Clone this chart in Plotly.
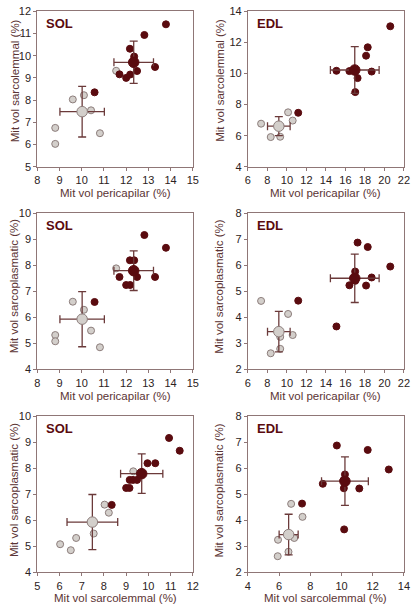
import plotly.graph_objects as go

# ---------------- data ----------------
# SOL muscle: light and dark groups
sol_light_pericap = [11.55, 9.60, 10.10, 10.42, 8.81, 8.81, 10.82]
sol_light_sarcolem = [9.32, 8.03, 8.22, 7.54, 6.75, 6.03, 6.51]
sol_light_sarcopl = [7.88, 6.60, 6.29, 5.49, 5.32, 5.08, 4.85]

sol_dark_pericap = [13.79, 12.82, 12.17, 12.36, 11.70, 12.49, 13.30, 12.00, 12.18, 10.58]
sol_dark_sarcolem = [11.41, 10.93, 10.31, 9.96, 9.16, 9.31, 9.49, 9.00, 9.15, 8.35]
sol_dark_sarcopl = [8.67, 9.16, 8.19, 8.19, 7.55, 7.55, 7.55, 7.24, 7.24, 6.59]

# EDL muscle
edl_light_pericap = [7.35, 10.12, 10.59, 9.31, 9.31, 8.34]
edl_light_sarcolem = [6.77, 7.50, 6.97, 5.93, 6.60, 5.91]
edl_light_sarcopl = [4.63, 4.13, 3.32, 3.25, 2.79, 2.62]

edl_dark_pericap = [20.60, 18.29, 18.12, 15.08, 16.41, 18.69, 17.25, 17.01, 11.16, 17.00]
edl_dark_sarcolem = [13.03, 11.68, 11.14, 10.17, 10.15, 10.12, 9.70, 8.80, 7.47, 10.22]
edl_dark_sarcopl = [5.95, 6.70, 5.22, 3.65, 5.23, 5.53, 6.87, 5.40, 4.64, 5.76]

# group means and SDs (pericapilar, sarcolemmal, sarcoplasmatic)
sol_light_mean = [10.02, 7.48, 5.93]
sol_light_sd = [1.00, 1.14, 1.06]
sol_dark_mean = [12.34, 9.70, 7.79]
sol_dark_sd = [0.89, 0.95, 0.76]
edl_light_mean = [9.17, 6.61, 3.45]
edl_light_sd = [1.16, 0.61, 0.78]
edl_dark_mean = [16.96, 10.22, 5.50]
edl_dark_sd = [2.50, 1.50, 0.93]

x_titles = ["Mit vol pericapilar (%)", "Mit vol pericapilar (%)", "Mit vol sarcolemmal (%)"]
y_titles = ["Mit vol sarcolemmal (%)", "Mit vol sarcoplasmatic (%)", "Mit vol sarcoplasmatic (%)"]
panel_labels = ["SOL", "EDL"]

# ---------------- styling ----------------
W, H = 419, 611
DARK = "#5a0b0f"
LIGHT = "#d3cfcb"
LIGHT_LINE = "#8c7d7b"
ERR = "#6b3a3a"
AXIS = "#8f7676"
TITLE_COL = "#5b3434"
TICK_COL = "#2b2222"
FONT = "Arial, Liberation Sans, sans-serif"


def px_x(p):
    return p / W


def px_y(p):
    return 1 - p / H


col_px = [(35.0, 194.0), (250.3, 409.7)]
row_px = [(5.3, 164.0), (211.3, 370.7), (418.3, 577.7)]
xtitle_off = [27, 27, 26]
ytitle_x = [12.0, 221.0]
ytitle_y = [76.0, 286.0, 494.0]

xranges = {
    (0, 0): [8, 15], (0, 1): [6, 22],
    (1, 0): [8, 15], (1, 1): [6, 22],
    (2, 0): [5, 12], (2, 1): [4, 14],
}
yranges = {
    (0, 0): [5, 12], (0, 1): [4, 14],
    (1, 0): [4, 10], (1, 1): [2, 8],
    (2, 0): [4, 10], (2, 1): [2, 8],
}
dticks = {
    (0, 0): (1, 1), (0, 1): (2, 2),
    (1, 0): (1, 1), (1, 1): (2, 1),
    (2, 0): (1, 1), (2, 1): (2, 1),
}

fig = go.Figure()
layout = {}

groups = {
    0: dict(light=(sol_light_pericap, sol_light_sarcolem, sol_light_sarcopl),
            dark=(sol_dark_pericap, sol_dark_sarcolem, sol_dark_sarcopl),
            lm=sol_light_mean, ls=sol_light_sd, dm=sol_dark_mean, ds=sol_dark_sd),
    1: dict(light=(edl_light_pericap, edl_light_sarcolem, edl_light_sarcopl),
            dark=(edl_dark_pericap, edl_dark_sarcolem, edl_dark_sarcopl),
            lm=edl_light_mean, ls=edl_light_sd, dm=edl_dark_mean, ds=edl_dark_sd),
}
pairs = [(0, 1), (0, 2), (1, 2)]

annotations = []
idx = 0
for r in range(3):
    for c in range(2):
        idx += 1
        xa = "x" if idx == 1 else f"x{idx}"
        ya = "y" if idx == 1 else f"y{idx}"
        xkey = "xaxis" if idx == 1 else f"xaxis{idx}"
        ykey = "yaxis" if idx == 1 else f"yaxis{idx}"
        g = groups[c]
        xi, yi = pairs[r]

        fig.add_trace(go.Scatter(
            x=g["light"][xi], y=g["light"][yi], mode="markers", xaxis=xa, yaxis=ya,
            marker=dict(size=7, color=LIGHT, line=dict(color=LIGHT_LINE, width=1)),
            showlegend=False, hoverinfo="x+y"))
        fig.add_trace(go.Scatter(
            x=g["dark"][xi], y=g["dark"][yi], mode="markers", xaxis=xa, yaxis=ya,
            marker=dict(size=7, color=DARK, line=dict(color=DARK, width=1)),
            showlegend=False, hoverinfo="x+y"))
        fig.add_trace(go.Scatter(
            x=[g["lm"][xi]], y=[g["lm"][yi]], mode="markers", xaxis=xa, yaxis=ya,
            error_x=dict(type="data", array=[g["ls"][xi]], color=ERR, thickness=1.3, width=4),
            error_y=dict(type="data", array=[g["ls"][yi]], color=ERR, thickness=1.3, width=4),
            marker=dict(size=10.5, color=LIGHT, line=dict(color=LIGHT_LINE, width=1)),
            showlegend=False, hoverinfo="x+y"))
        fig.add_trace(go.Scatter(
            x=[g["dm"][xi]], y=[g["dm"][yi]], mode="markers", xaxis=xa, yaxis=ya,
            error_x=dict(type="data", array=[g["ds"][xi]], color=ERR, thickness=1.3, width=4),
            error_y=dict(type="data", array=[g["ds"][yi]], color=ERR, thickness=1.3, width=4),
            marker=dict(size=10.5, color=DARK, line=dict(color=DARK, width=1)),
            showlegend=False, hoverinfo="x+y"))

        x0, x1 = col_px[c]
        yt, yb = row_px[r]
        dx, dy = dticks[(r, c)]
        common = dict(showgrid=False, zeroline=False, showline=True, linecolor=AXIS,
                      linewidth=1, mirror=True, ticks="outside", ticklen=3,
                      tickcolor=AXIS, tickwidth=1,
                      tickfont=dict(family=FONT, size=11, color=TICK_COL))
        layout[xkey] = dict(common, domain=[px_x(x0), px_x(x1)], range=xranges[(r, c)],
                            dtick=dx, tick0=0, anchor=ya)
        layout[ykey] = dict(common, domain=[px_y(yb), px_y(yt)], range=yranges[(r, c)],
                            dtick=dy, tick0=0, anchor=xa)
        # axis titles
        annotations.append(dict(
            text=x_titles[r], xref="paper", yref="paper",
            x=px_x((x0 + x1) / 2), y=px_y(yb + xtitle_off[r]), xanchor="center",
            yanchor="middle", showarrow=False,
            font=dict(family=FONT, size=11.5, color=TITLE_COL)))
        annotations.append(dict(
            text=y_titles[r], xref="paper", yref="paper", textangle=-90,
            x=px_x(ytitle_x[c]), y=px_y(ytitle_y[r]), xanchor="center", yanchor="middle",
            showarrow=False, font=dict(family=FONT, size=11.5, color=TITLE_COL)))
        # panel label
        annotations.append(dict(
            text=f"<b>{panel_labels[c]}</b>", xref="paper", yref="paper",
            x=px_x(x0 + 7), y=px_y(yt + 13), xanchor="left", yanchor="middle",
            showarrow=False, font=dict(family=FONT, size=13, color=DARK)))

fig.update_layout(
    width=W, height=H, margin=dict(l=0, r=0, t=0, b=0),
    paper_bgcolor="white", plot_bgcolor="white",
    annotations=annotations, **layout)

# remove the browser's default 8px page margin so the figure sits at the window origin
fig.write_html("out.html", config={"displayModeBar": False},
               post_script="document.body.style.margin='0px';")
